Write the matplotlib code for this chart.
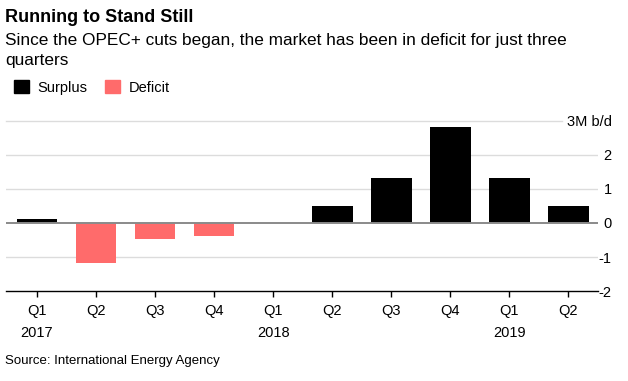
import matplotlib.pyplot as plt
from matplotlib.patches import Patch
from matplotlib.transforms import blended_transform_factory

plt.rcParams['font.family'] = ['Liberation Sans', 'DejaVu Sans']

# Quarterly market balance, million barrels a day
quarters = ["Q1", "Q2", "Q3", "Q4", "Q1", "Q2", "Q3", "Q4", "Q1", "Q2"]
years = ["2017", "", "", "", "2018", "", "", "", "2019", ""]
balance = [0.13, -1.18, -0.48, -0.39, 0.0, 0.5, 1.32, 2.82, 1.32, 0.5]
yticks = [-2, -1, 0, 1, 2, 3]
ytick_labels = ["-2", "-1", "0", "1", "2", "3M b/d"]

surplus_color = "#000000"
deficit_color = "#ff6b6b"

fig = plt.figure(figsize=(6.28, 3.81), dpi=100)
ax = fig.add_axes([0.01, 0.236, 0.942, 0.447])

x = list(range(len(balance)))
colors = [surplus_color if v >= 0 else deficit_color for v in balance]
ax.bar(x, balance, width=0.69, color=colors, zorder=3)

ax.set_xlim(-0.52, 9.5)
ax.set_ylim(-2, 3)

# horizontal grid lines
for t in yticks[1:]:
    if t == 0:
        ax.axhline(0, color="#8a8a8a", lw=1.4, zorder=4)
    elif t == 3:
        ax.plot([0, 0.94], [t, t], transform=blended_transform_factory(ax.transAxes, ax.transData),
                color="#dcdcdc", lw=1, zorder=1, clip_on=False)
    else:
        ax.axhline(t, color="#dcdcdc", lw=1, zorder=1)

ax.yaxis.tick_right()
ax.set_yticks(yticks)
ax.set_yticklabels(ytick_labels)
ax.tick_params(axis="y", length=0, pad=10, labelsize=10.5, colors="black")
for lbl in ax.get_yticklabels():
    lbl.set_horizontalalignment("right")

ax.set_xticks(x)
ax.set_xticklabels(quarters)
ax.tick_params(axis="x", length=4, width=1, pad=5, labelsize=10.5)

for s in ["top", "right", "left"]:
    ax.spines[s].set_visible(False)
ax.spines["bottom"].set_linewidth(1)

trans = blended_transform_factory(ax.transData, ax.transAxes)
for xi, yr in zip(x, years):
    if yr:
        ax.text(xi, -0.245, yr, transform=trans, ha="center", va="center", fontsize=10.5)

fig.text(0.008, 0.955, "Running to Stand Still", fontsize=13, fontweight="bold", va="center")
fig.text(0.008, 0.893, "Since the OPEC+ cuts began, the market has been in deficit for just three",
         fontsize=12.4, va="center")
fig.text(0.008, 0.840, "quarters", fontsize=12.4, va="center")

handles = [Patch(color=surplus_color, label="Surplus"), Patch(color=deficit_color, label="Deficit")]
fig.legend(handles=handles, loc="center left", bbox_to_anchor=(0.002, 0.77), ncol=2, frameon=False,
           fontsize=10.5, handlelength=1.0, handleheight=1.0, handletextpad=0.6, columnspacing=1.2)

fig.text(0.008, 0.052, "Source: International Energy Agency", fontsize=9.5, va="center")

fig.savefig("out.png", dpi=100)
